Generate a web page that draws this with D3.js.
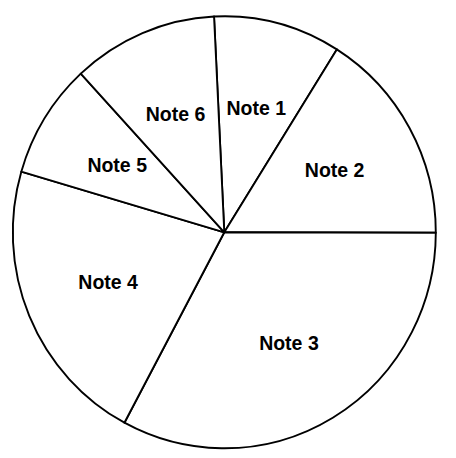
<!DOCTYPE html>
<html>
<head>
<meta charset="utf-8">
<script src="https://cdn.jsdelivr.net/npm/d3@7"></script>
<style>
html,body{margin:0;padding:0;background:#fff;}
svg{display:block;}
</style>
</head>
<body>
<svg id="chart" width="456" height="458"></svg>
<script>
const categories = ["Note 1","Note 2","Note 3","Note 4","Note 5","Note 6"];
const values = [9.7, 16.1, 32.8, 21.7, 8.6, 11.1];

const W = 456, H = 458;
const cx = 224.3, cy = 232.3;
const R = 211.5;
const sy = 216 / 211.5;
const startDeg = -2.78;

const svg = d3.select("#chart");
svg.append("rect").attr("width", W).attr("height", H).attr("fill", "#fff");

const pie = d3.pie().sort(null).value(d => d.v)
  .startAngle(startDeg * Math.PI / 180)
  .endAngle((startDeg + 360) * Math.PI / 180);
const data = pie(categories.map((c, i) => ({c, v: values[i]})));

const arc = d3.arc().innerRadius(0).outerRadius(R);
const labelArc = d3.arc().innerRadius(126).outerRadius(126);

const g = svg.append("g").attr("transform", `translate(${cx},${cy}) scale(1,${sy})`);
g.selectAll("path").data(data).join("path")
  .attr("d", arc)
  .attr("fill", "#fff")
  .attr("stroke", "#000")
  .attr("stroke-width", 1.9)
  .attr("vector-effect", "non-scaling-stroke")
  .attr("stroke-linejoin", "round");

svg.append("g").selectAll("text").data(data).join("text")
  .attr("x", d => cx + labelArc.centroid(d)[0])
  .attr("y", d => cy + labelArc.centroid(d)[1] * sy)
  .attr("text-anchor", "middle")
  .attr("dy", "0.36em")
  .attr("font-family", "Arial, 'Liberation Sans', sans-serif")
  .attr("font-weight", "bold")
  .attr("font-size", "19.5px")
  .attr("fill", "#000")
  .text(d => d.data.c);
</script>
</body>
</html>
